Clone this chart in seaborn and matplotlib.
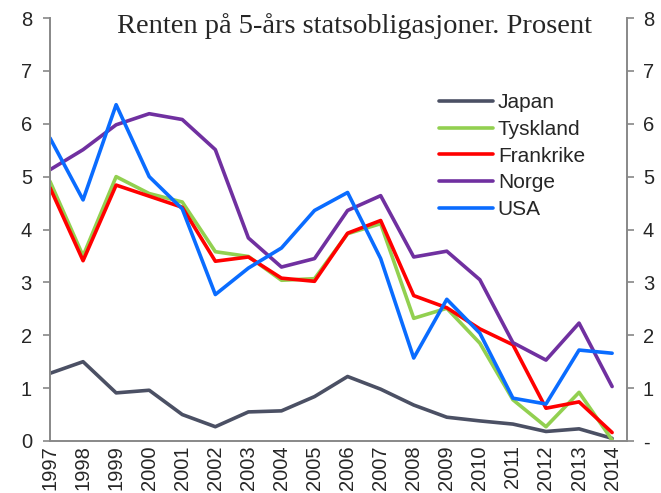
import numpy as np
import pandas as pd
import seaborn as sns
from matplotlib import pyplot as plt

# data
years = list(range(1997, 2015))
japan = [1.28, 1.50, 0.91, 0.96, 0.50, 0.27, 0.55, 0.57, 0.84, 1.22, 0.98, 0.68, 0.45, 0.38, 0.32, 0.18, 0.23, 0.05]
tyskland = [4.91, 3.50, 5.00, 4.68, 4.52, 3.58, 3.49, 3.04, 3.07, 3.92, 4.11, 2.32, 2.51, 1.85, 0.78, 0.27, 0.92, 0.02]
frankrike = [4.79, 3.41, 4.84, 4.63, 4.42, 3.40, 3.48, 3.08, 3.02, 3.93, 4.17, 2.75, 2.52, 2.12, 1.82, 0.62, 0.74, 0.16]
norge = [5.13, 5.51, 5.98, 6.19, 6.08, 5.51, 3.84, 3.29, 3.45, 4.36, 4.64, 3.48, 3.59, 3.05, 1.86, 1.53, 2.23, 1.03]
usa = [5.73, 4.56, 6.36, 5.00, 4.39, 2.77, 3.27, 3.65, 4.36, 4.70, 3.45, 1.57, 2.68, 2.04, 0.81, 0.70, 1.72, 1.66]

series = {"Japan": japan, "Tyskland": tyskland, "Frankrike": frankrike, "Norge": norge, "USA": usa}
colors = {"Japan": "#4b5064", "Tyskland": "#92d050", "Frankrike": "#ff0000", "Norge": "#7030a0", "USA": "#0a6cff"}

df = pd.DataFrame([(y, name, v) for name, vals in series.items() for y, v in zip(years, vals)],
                  columns=["year", "land", "rente"])

sns.set_style("white")
plt.rcParams['font.family'] = ['Liberation Sans', 'DejaVu Sans']

fig = plt.figure(figsize=(6.61, 4.93), dpi=100)
ax = fig.add_axes([50 / 661, 1 - 441 / 493, 577 / 661, 423 / 493])

sns.lineplot(data=df, x="year", y="rente", hue="land", palette=colors, linewidth=2.6, ax=ax)

ax.set_xlim(1997, 2014.45)
ax.set_ylim(0, 8)
ax.set_xticks(years)
ax.set_xticklabels([str(y) for y in years], rotation=90, fontsize=14.5)
ax.set_yticks(range(0, 9))
ax.set_yticklabels([str(i) for i in range(0, 9)], fontsize=14.5)
ax.set_xlabel("")
ax.set_ylabel("")
ax.tick_params(axis="y", direction="out", length=5, color="#888888", width=1.2, pad=8)
ax.tick_params(axis="x", direction="out", length=0, pad=3)

for side in ["left", "bottom", "right"]:
    ax.spines[side].set_color("#888888")
    ax.spines[side].set_linewidth(1.4)
ax.spines["top"].set_visible(False)

# høyre akse med samme skala
ax2 = ax.twinx()
ax2.set_ylim(0, 8)
ax2.set_yticks(range(0, 9))
ax2.set_yticklabels(["-"] + [str(i) for i in range(1, 9)], fontsize=14.5)
ax2.tick_params(axis="y", direction="out", length=5, color="#888888", width=1.2, pad=6.5)
for side in ["left", "bottom", "right", "top"]:
    ax2.spines[side].set_visible(False)

ax.text(0.527, 1.012, "Renten på 5-års statsobligasjoner. Prosent", transform=ax.transAxes,
        ha="center", va="top", fontsize=20.5, family="Liberation Serif")

leg = ax.legend(loc="upper left", bbox_to_anchor=(0.675, 0.822), frameon=False, fontsize=15,
                handlelength=2.55, handletextpad=0.25, labelspacing=0.37, borderaxespad=0,
                borderpad=0)

fig.savefig("out.png", dpi=100)
